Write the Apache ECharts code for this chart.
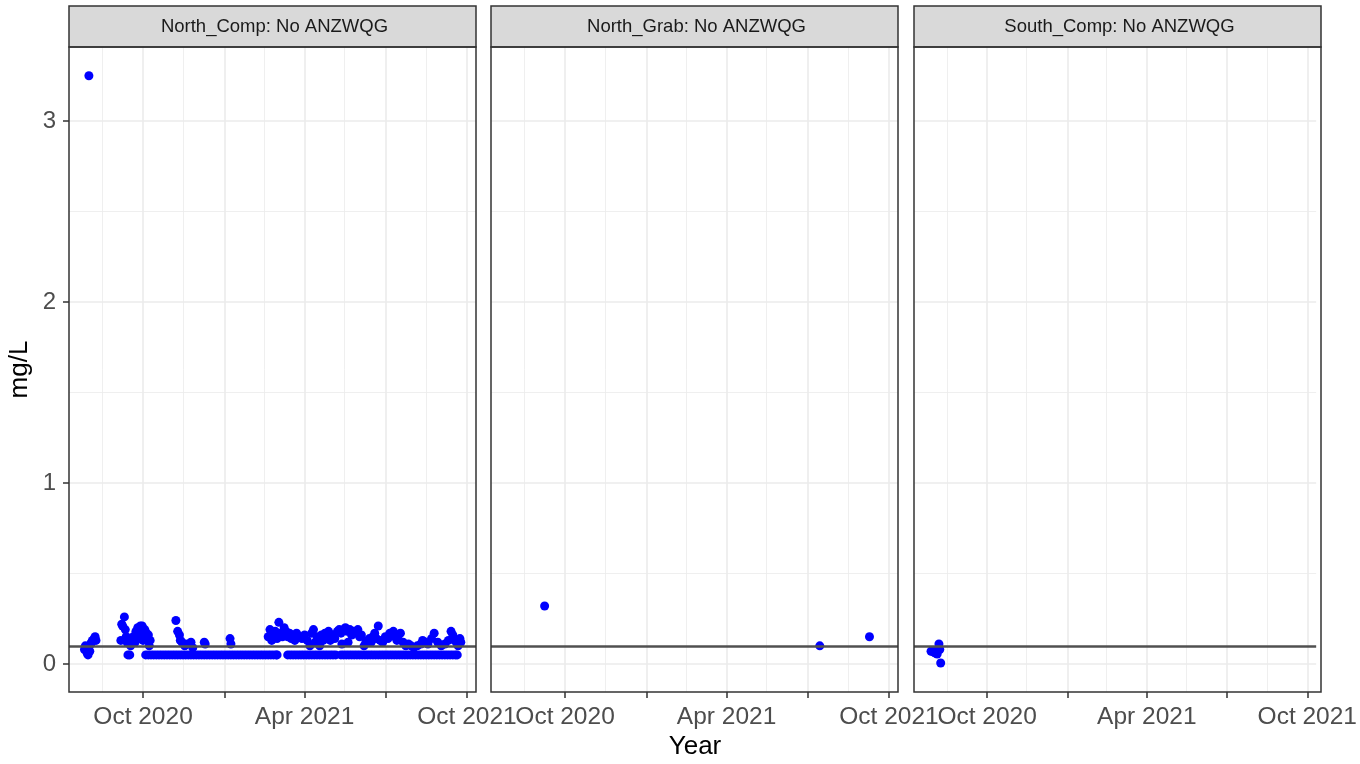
<!DOCTYPE html>
<html><head><meta charset="utf-8">
<script src="https://cdn.jsdelivr.net/npm/echarts@6/dist/echarts.min.js"></script>
<style>html,body{margin:0;padding:0;background:#fff}#c{width:1360px;height:764px}</style>
</head><body><div id="c"></div>
<script>
// ---------- data ----------
const panelTitles = ['North_Comp: No ANZWQG', 'North_Grab: No ANZWQG', 'South_Comp: No ANZWQG'];
const guidelineValue = 0.1;
const xRange = ['2020-07-09T14:00:00Z', '2021-10-11T03:00:00Z'];
const yRange = [-0.155, 3.409];
const xTickDates = ['2020-10-01', '2021-01-01', '2021-04-01', '2021-07-01', '2021-10-01'];
const xLabelDates = ['2020-10-01', '2021-04-01', '2021-10-01'];
const xMinorDates = ['2020-08-16', '2020-11-15', '2021-02-14', '2021-05-16', '2021-08-16'];
const yTicks = [0, 1, 2, 3];
const yMinorTicks = [0.5, 1.5, 2.5];
const monthNames = ['Jan','Feb','Mar','Apr','May','Jun','Jul','Aug','Sep','Oct','Nov','Dec'];

const northComp = [
  // Jul-Aug 2020
  ['2020-07-27',0.08],['2020-07-28',0.10],['2020-07-29',0.09],['2020-07-30',0.06],['2020-07-31',0.05],
  ['2020-08-01',3.25],['2020-08-02',0.07],['2020-08-03',0.11],['2020-08-04',0.12],['2020-08-05',0.13],
  ['2020-08-07',0.14],['2020-08-08',0.15],['2020-08-09',0.13],
  // Sep-Oct 2020
  ['2020-09-06',0.13],['2020-09-07',0.22],['2020-09-08',0.21],['2020-09-10',0.26],['2020-09-11',0.19],
  ['2020-09-12',0.15],['2020-09-13',0.12],['2020-09-14',0.05],['2020-09-15',0.13],['2020-09-16',0.05],
  ['2020-09-17',0.10],['2020-09-18',0.14],['2020-09-19',0.13],['2020-09-20',0.15],['2020-09-22',0.12],
  ['2020-09-23',0.18],['2020-09-24',0.16],['2020-09-25',0.20],['2020-09-26',0.14],['2020-09-27',0.19],
  ['2020-09-28',0.21],['2020-09-29',0.17],['2020-09-30',0.21],['2020-10-01',0.13],['2020-10-02',0.16],
  ['2020-10-03',0.19],['2020-10-05',0.17],['2020-10-06',0.14],['2020-10-07',0.16],['2020-10-08',0.10],
  ['2020-10-09',0.13],
  // Oct 2020 - Mar 2021 detections
  ['2020-11-07',0.24],['2020-11-09',0.18],['2020-11-11',0.16],['2020-11-12',0.13],['2020-11-14',0.12],
  ['2020-11-17',0.10],['2020-11-20',0.11],['2020-11-24',0.12],['2020-11-26',0.09],['2020-12-09',0.12],
  ['2020-12-10',0.11],['2021-01-07',0.14],['2021-01-08',0.11],
  // Oct 2020 - Mar 2021 below reporting limit
  ['2020-10-04',0.05],['2020-10-07',0.05],['2020-10-10',0.05],['2020-10-13',0.05],['2020-10-16',0.05],
  ['2020-10-19',0.05],['2020-10-22',0.05],['2020-10-25',0.05],['2020-10-28',0.05],['2020-10-31',0.05],
  ['2020-11-03',0.05],['2020-11-06',0.05],['2020-11-09',0.05],['2020-11-12',0.05],['2020-11-15',0.05],
  ['2020-11-18',0.05],['2020-11-21',0.05],['2020-11-24',0.05],['2020-11-27',0.05],['2020-11-30',0.05],
  ['2020-12-03',0.05],['2020-12-06',0.05],['2020-12-09',0.05],['2020-12-12',0.05],['2020-12-15',0.05],
  ['2020-12-18',0.05],['2020-12-21',0.05],['2020-12-24',0.05],['2020-12-27',0.05],['2020-12-30',0.05],
  ['2021-01-02',0.05],['2021-01-05',0.05],['2021-01-08',0.05],['2021-01-11',0.05],['2021-01-14',0.05],
  ['2021-01-17',0.05],['2021-01-20',0.05],['2021-01-23',0.05],['2021-01-26',0.05],['2021-01-29',0.05],
  ['2021-02-01',0.05],['2021-02-04',0.05],['2021-02-07',0.05],['2021-02-10',0.05],['2021-02-13',0.05],
  ['2021-02-16',0.05],['2021-02-19',0.05],['2021-02-22',0.05],['2021-02-25',0.05],['2021-02-28',0.05],
  ['2021-03-01',0.05],
  // Feb - Sep 2021 detections
  ['2021-02-19',0.15],['2021-02-21',0.19],['2021-02-23',0.13],['2021-02-25',0.16],['2021-02-27',0.18],
  ['2021-03-01',0.14],['2021-03-03',0.23],['2021-03-05',0.17],['2021-03-07',0.15],['2021-03-09',0.20],
  ['2021-03-11',0.18],['2021-03-13',0.15],['2021-03-15',0.17],['2021-03-17',0.14],['2021-03-19',0.16],
  ['2021-03-21',0.13],['2021-03-23',0.17],['2021-03-26',0.15],['2021-03-29',0.14],['2021-04-01',0.16],
  ['2021-04-04',0.13],['2021-04-07',0.10],['2021-04-09',0.17],['2021-04-11',0.19],['2021-04-13',0.12],
  ['2021-04-15',0.15],['2021-04-18',0.10],['2021-04-20',0.16],['2021-04-22',0.13],['2021-04-24',0.17],
  ['2021-04-26',0.15],['2021-04-28',0.18],['2021-04-30',0.13],['2021-05-02',0.16],['2021-05-05',0.14],
  ['2021-05-08',0.18],['2021-05-10',0.19],['2021-05-12',0.17],['2021-05-13',0.11],['2021-05-15',0.19],
  ['2021-05-17',0.20],['2021-05-19',0.18],['2021-05-20',0.12],['2021-05-22',0.19],['2021-05-24',0.16],
  ['2021-05-26',0.18],['2021-05-29',0.17],['2021-05-31',0.19],['2021-06-02',0.15],['2021-06-04',0.16],
  ['2021-06-07',0.10],['2021-06-09',0.12],['2021-06-11',0.13],['2021-06-13',0.14],['2021-06-15',0.12],
  ['2021-06-17',0.15],['2021-06-19',0.17],['2021-06-21',0.14],['2021-06-23',0.21],['2021-06-25',0.13],
  ['2021-06-28',0.12],['2021-07-01',0.15],['2021-07-04',0.14],['2021-07-06',0.17],['2021-07-08',0.16],
  ['2021-07-10',0.18],['2021-07-12',0.15],['2021-07-14',0.13],['2021-07-16',0.16],['2021-07-18',0.17],
  ['2021-07-21',0.12],['2021-07-24',0.10],['2021-07-27',0.11],['2021-07-30',0.10],['2021-08-02',0.09],
  ['2021-08-06',0.10],['2021-08-10',0.11],['2021-08-12',0.13],['2021-08-15',0.12],['2021-08-18',0.11],
  ['2021-08-22',0.14],['2021-08-25',0.17],['2021-08-29',0.12],['2021-09-02',0.10],['2021-09-06',0.11],
  ['2021-09-10',0.13],['2021-09-13',0.18],['2021-09-15',0.16],['2021-09-17',0.13],['2021-09-19',0.12],
  ['2021-09-21',0.10],['2021-09-23',0.14],['2021-09-24',0.12],
  // Mar - Sep 2021 below reporting limit
  ['2021-03-13',0.05],['2021-03-16',0.05],['2021-03-19',0.05],['2021-03-22',0.05],['2021-03-25',0.05],
  ['2021-03-28',0.05],['2021-03-31',0.05],['2021-04-03',0.05],['2021-04-06',0.05],['2021-04-09',0.05],
  ['2021-04-12',0.05],['2021-04-15',0.05],['2021-04-18',0.05],['2021-04-21',0.05],['2021-04-24',0.05],
  ['2021-04-27',0.05],['2021-04-30',0.05],['2021-05-03',0.05],['2021-05-06',0.05],['2021-05-12',0.05],
  ['2021-05-15',0.05],['2021-05-18',0.05],['2021-05-21',0.05],['2021-05-24',0.05],['2021-05-27',0.05],
  ['2021-05-30',0.05],['2021-06-02',0.05],['2021-06-05',0.05],['2021-06-08',0.05],['2021-06-11',0.05],
  ['2021-06-14',0.05],['2021-06-17',0.05],['2021-06-20',0.05],['2021-06-23',0.05],['2021-06-26',0.05],
  ['2021-06-29',0.05],['2021-07-02',0.05],['2021-07-05',0.05],['2021-07-08',0.05],['2021-07-11',0.05],
  ['2021-07-14',0.05],['2021-07-17',0.05],['2021-07-20',0.05],['2021-07-23',0.05],['2021-07-26',0.05],
  ['2021-07-29',0.05],['2021-08-01',0.05],['2021-08-04',0.05],['2021-08-07',0.05],['2021-08-10',0.05],
  ['2021-08-13',0.05],['2021-08-16',0.05],['2021-08-19',0.05],['2021-08-22',0.05],['2021-08-25',0.05],
  ['2021-08-28',0.05],['2021-08-31',0.05],['2021-09-03',0.05],['2021-09-06',0.05],['2021-09-09',0.05],
  ['2021-09-12',0.05],['2021-09-15',0.05],['2021-09-18',0.05],['2021-09-20',0.05]
];
const northGrab = [['2020-09-08',0.32],['2021-07-15',0.10],['2021-09-09',0.15]];
const southComp = [
  ['2020-07-29',0.07],['2020-07-31',0.075],['2020-08-01',0.065],['2020-08-03',0.06],
  ['2020-08-05',0.055],['2020-08-07',0.11],['2020-08-08',0.08],['2020-08-09',0.005]
];
const panelData = [northComp, northGrab, southComp];

// ---------- layout / style ----------
const FONT = 'Liberation Sans';
const panelLefts = [69, 491, 914];
const panelWidth = 407, panelTop = 47, panelHeight = 645;
const stripTop = 6, stripHeight = 41;

const ts = s => Date.parse(s.length === 10 ? s + 'T00:00:00Z' : s);
const xMin = ts(xRange[0]), xMax = ts(xRange[1]);
const fmtDate = v => { const d = new Date(v); return monthNames[d.getUTCMonth()] + ' ' + d.getUTCFullYear(); };

const grids = [], xAxes = [], yAxes = [], series = [], graphics = [];
panelLefts.forEach((left, i) => {
  grids.push({ left: left, top: panelTop, width: panelWidth, height: panelHeight, show: false });
});
// main axes (x values are UTC timestamps on a linear value scale)
panelLefts.forEach((left, i) => {
  xAxes.push({
    type: 'value', gridIndex: i, min: xMin, max: xMax, scale: true,
    axisLine: { show: false, onZero: false },
    axisTick: { show: true, customValues: xTickDates.map(ts), length: 6, lineStyle: { color: '#333333', width: 1.5 } },
    axisLabel: { show: true, customValues: xLabelDates.map(ts), formatter: fmtDate, fontSize: 24.5, color: '#4D4D4D', fontFamily: FONT, margin: 13, hideOverlap: false },
    splitLine: { show: true, lineStyle: { color: '#EBEBEB', width: 1.6 } }
  });
  yAxes.push({
    type: 'value', gridIndex: i, min: yRange[0], max: yRange[1],
    axisLine: { show: false, onZero: false },
    axisTick: { show: i === 0, customValues: yTicks, length: 6, lineStyle: { color: '#333333', width: 1.5 } },
    axisLabel: { show: i === 0, customValues: yTicks, fontSize: 24, color: '#4D4D4D', fontFamily: FONT, margin: 13 },
    splitLine: { show: true, lineStyle: { color: '#EBEBEB', width: 1.6 } }
  });
});
// minor grid axes
panelLefts.forEach((left, i) => {
  xAxes.push({
    type: 'value', gridIndex: i, min: xMin, max: xMax, scale: true,
    axisLine: { show: false, onZero: false },
    axisTick: { show: false, customValues: xMinorDates.map(ts) },
    axisLabel: { show: false },
    splitLine: { show: true, lineStyle: { color: '#EBEBEB', width: 0.8 } }
  });
  yAxes.push({
    type: 'value', gridIndex: i, min: yRange[0], max: yRange[1],
    axisLine: { show: false, onZero: false },
    axisTick: { show: false, customValues: yMinorTicks },
    axisLabel: { show: false },
    splitLine: { show: true, lineStyle: { color: '#EBEBEB', width: 0.8 } }
  });
});
panelData.forEach((rows, i) => {
  series.push({
    type: 'scatter', xAxisIndex: i, yAxisIndex: i,
    data: rows.map(r => [ts(r[0]), r[1]]),
    symbol: 'circle', symbolSize: 9,
    itemStyle: { color: '#0000FF', opacity: 1 },
    emphasis: { disabled: true }, silent: true,
    markLine: {
      silent: true, symbol: 'none', label: { show: false },
      lineStyle: { color: '#505050', width: 2.5, type: 'solid' },
      emphasis: { disabled: true },
      data: [{ yAxis: guidelineValue }]
    }
  });
});
// strips, borders, titles
panelLefts.forEach((left, i) => {
  graphics.push({ type: 'rect', z: 50, shape: { x: left, y: stripTop, width: panelWidth, height: stripHeight },
    style: { fill: '#D9D9D9', stroke: '#333333', lineWidth: 1.5 } });
  graphics.push({ type: 'text', z: 51, x: left + panelWidth / 2 + 2, y: stripTop + stripHeight / 2,
    style: { text: panelTitles[i], align: 'center', verticalAlign: 'middle', fontSize: 18.5, fontFamily: FONT, fill: '#1A1A1A' } });
  graphics.push({ type: 'rect', z: 50, shape: { x: left, y: panelTop, width: panelWidth, height: panelHeight },
    style: { fill: 'none', stroke: '#333333', lineWidth: 1.5 } });
});
graphics.push({ type: 'text', z: 51, x: (panelLefts[0] + panelLefts[2] + panelWidth) / 2, y: 747,
  style: { text: 'Year', align: 'center', verticalAlign: 'middle', fontSize: 26, fontFamily: FONT, fill: '#000000' } });
graphics.push({ type: 'text', z: 51, x: 20, y: panelTop + panelHeight / 2, rotation: Math.PI / 2,
  style: { text: 'mg/L', align: 'center', verticalAlign: 'middle', fontSize: 26, fontFamily: FONT, fill: '#000000' } });

const chart = echarts.init(document.getElementById('c'), null, { renderer: 'canvas' });
chart.setOption({
  animation: false,
  backgroundColor: '#FFFFFF',
  grid: grids, xAxis: xAxes, yAxis: yAxes, series: series, graphic: graphics
});
</script>
</body></html>
